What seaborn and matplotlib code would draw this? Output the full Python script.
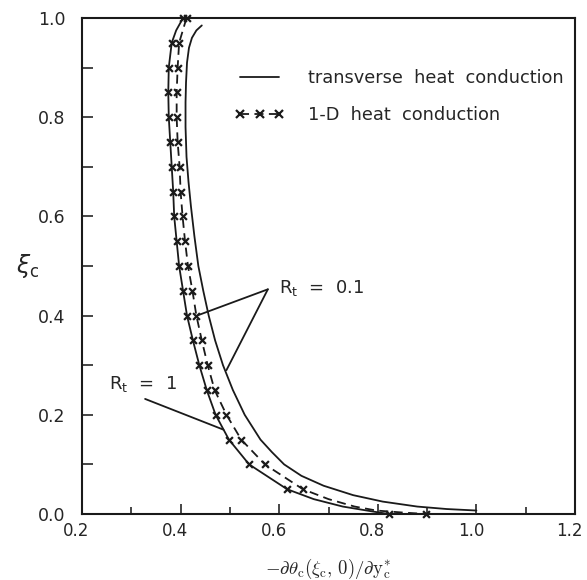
import matplotlib
matplotlib.use("Agg")
import matplotlib.pyplot as plt
from matplotlib.lines import Line2D
from matplotlib.ticker import MultipleLocator
from matplotlib.transforms import ScaledTranslation
import seaborn as sns

sns.set_theme(style="ticks", rc={"xtick.direction": "in", "ytick.direction": "in"})
plt.rcParams['font.family'] = ['DejaVu Sans']

# xi_c positions of the 1-D solution markers
xi_grid = [1.00, 0.95, 0.90, 0.85, 0.80, 0.75, 0.70, 0.65, 0.60, 0.55, 0.50,
           0.45, 0.40, 0.35, 0.30, 0.25, 0.20, 0.15, 0.10, 0.05, 0.00]
q_1d_rt1 = [0.405, 0.382, 0.376, 0.375, 0.376, 0.379, 0.382, 0.385, 0.387, 0.392, 0.397,
            0.405, 0.413, 0.425, 0.438, 0.453, 0.471, 0.498, 0.539, 0.616, 0.822]
q_1d_rt01 = [0.412, 0.397, 0.394, 0.392, 0.392, 0.394, 0.398, 0.400, 0.404, 0.409, 0.415,
             0.424, 0.432, 0.443, 0.455, 0.469, 0.493, 0.523, 0.571, 0.648, 0.898]

# dashed 1-D line, R_t = 0.1 (denser near the wall)
xi_1d_line = [1.00, 0.95, 0.90, 0.85, 0.80, 0.75, 0.70, 0.65, 0.60, 0.55, 0.50,
              0.45, 0.40, 0.35, 0.30, 0.25, 0.20, 0.15, 0.10, 0.05, 0.03, 0.015, 0.007, 0.003, 0.0]
q_1d_line = [0.412, 0.397, 0.394, 0.392, 0.392, 0.394, 0.398, 0.400, 0.404, 0.409, 0.415,
             0.424, 0.432, 0.443, 0.455, 0.469, 0.493, 0.523, 0.571, 0.648, 0.700, 0.753, 0.797, 0.850, 0.898]

# transverse heat conduction, R_t = 1
xi_tr_rt1 = [1.00, 0.975, 0.95, 0.90, 0.85, 0.80, 0.75, 0.70, 0.65, 0.60, 0.55, 0.50,
             0.45, 0.40, 0.35, 0.30, 0.25, 0.20, 0.15, 0.10, 0.05, 0.03, 0.015, 0.005, 0.0]
q_tr_rt1 = [0.405, 0.391, 0.382, 0.376, 0.375, 0.376, 0.379, 0.382, 0.385, 0.387, 0.392, 0.397,
            0.405, 0.413, 0.425, 0.438, 0.453, 0.471, 0.498, 0.539, 0.616, 0.670, 0.729, 0.790, 0.822]

# transverse heat conduction, R_t = 0.1
xi_tr_rt01 = [0.985, 0.975, 0.96, 0.94, 0.91, 0.87, 0.83, 0.78, 0.72, 0.67, 0.62, 0.56,
              0.50, 0.45, 0.40, 0.35, 0.30, 0.25, 0.20, 0.15, 0.125, 0.10, 0.077, 0.057,
              0.038, 0.025, 0.015, 0.010, 0.007]
q_tr_rt01 = [0.443, 0.432, 0.423, 0.417, 0.413, 0.411, 0.410, 0.410, 0.412, 0.416, 0.421, 0.428,
             0.436, 0.446, 0.457, 0.470, 0.486, 0.506, 0.530, 0.562, 0.585, 0.610, 0.645, 0.690,
             0.750, 0.810, 0.880, 0.940, 1.000]

fig = plt.figure(figsize=(5.87, 5.80), dpi=100)
ax = fig.add_axes([82 / 587, 66 / 580, 493 / 587, 496 / 580])

lw = 1.3
dash = (0, (5, 3))
sns.lineplot(x=q_tr_rt1, y=xi_tr_rt1, sort=False, estimator=None, color='k', lw=lw, ax=ax)
sns.lineplot(x=q_tr_rt01, y=xi_tr_rt01, sort=False, estimator=None, color='k', lw=lw, ax=ax)
sns.lineplot(x=q_1d_line, y=xi_1d_line, sort=False, estimator=None, color='k', lw=lw,
             ls=dash, ax=ax)
sns.scatterplot(x=q_1d_rt1, y=xi_grid, marker='x', color='k', s=24, linewidth=1.6,
                clip_on=False, zorder=4, ax=ax)
sns.scatterplot(x=q_1d_rt01, y=xi_grid, marker='x', color='k', s=24, linewidth=1.6,
                clip_on=False, zorder=4, ax=ax)

# R_t labels with pointer lines
ptr = dict(arrowstyle='-', lw=lw, color='k', shrinkA=0, shrinkB=0)
ax.text(0.60, 0.455, r'R$_\mathrm{t}$  =  0.1', fontsize=13, ha='left', va='center')
ax.annotate('', xy=(0.436, 0.401), xytext=(0.577, 0.453), arrowprops=ptr)
ax.annotate('', xy=(0.493, 0.290), xytext=(0.577, 0.453), arrowprops=ptr)
ax.text(0.255, 0.262, r'R$_\mathrm{t}$  =  1', fontsize=13, ha='left', va='center')
ax.annotate('', xy=(0.487, 0.170), xytext=(0.328, 0.232), arrowprops=ptr)

handles = [Line2D([], [], color='k', lw=lw),
           Line2D([], [], color='k', lw=lw, ls=dash, marker='x', ms=6, mew=1.6)]
ax.legend(handles, ['transverse  heat  conduction', '1-D  heat  conduction'],
          loc='upper left', bbox_to_anchor=(0.31, 0.897), frameon=False, fontsize=12.8,
          numpoints=3, handlelength=2.8, handletextpad=1.3, labelspacing=1.05,
          borderaxespad=0, borderpad=0)

ax.set_xlim(0.2, 1.2)
ax.set_ylim(0.0, 1.0)
ax.xaxis.set_major_locator(MultipleLocator(0.2))
ax.xaxis.set_minor_locator(MultipleLocator(0.1))
ax.yaxis.set_major_locator(MultipleLocator(0.2))
ax.yaxis.set_minor_locator(MultipleLocator(0.1))
ax.tick_params(axis='x', which='major', length=7, width=1.2, labelsize=12, pad=6)
ax.tick_params(axis='x', which='minor', length=5, width=1.2)
ax.tick_params(axis='y', which='both', length=8, width=1.2, labelsize=12.5, pad=12)
for sp in ax.spines.values():
    sp.set_linewidth(1.5)
    sp.set_color('k')

# x tick labels sit a little left of their ticks in the original
shift = ScaledTranslation(-4 / 72, 0, fig.dpi_scale_trans)
for lab in ax.get_xticklabels():
    lab.set_transform(lab.get_transform() + shift)

ax.set_xlabel(r'$-\partial\theta_{\mathrm{c}}(\xi_{\mathrm{c}},\,0)/\partial\mathrm{y}_{\mathrm{c}}^{*}$',
              fontsize=13.5, math_fontfamily='cm', labelpad=12)
ax.set_ylabel(r'$\xi_{\mathrm{c}}$', fontsize=17, rotation=0, va='center')
ax.yaxis.set_label_coords(-0.11, 0.5)

fig.savefig('out.png', dpi=100)
